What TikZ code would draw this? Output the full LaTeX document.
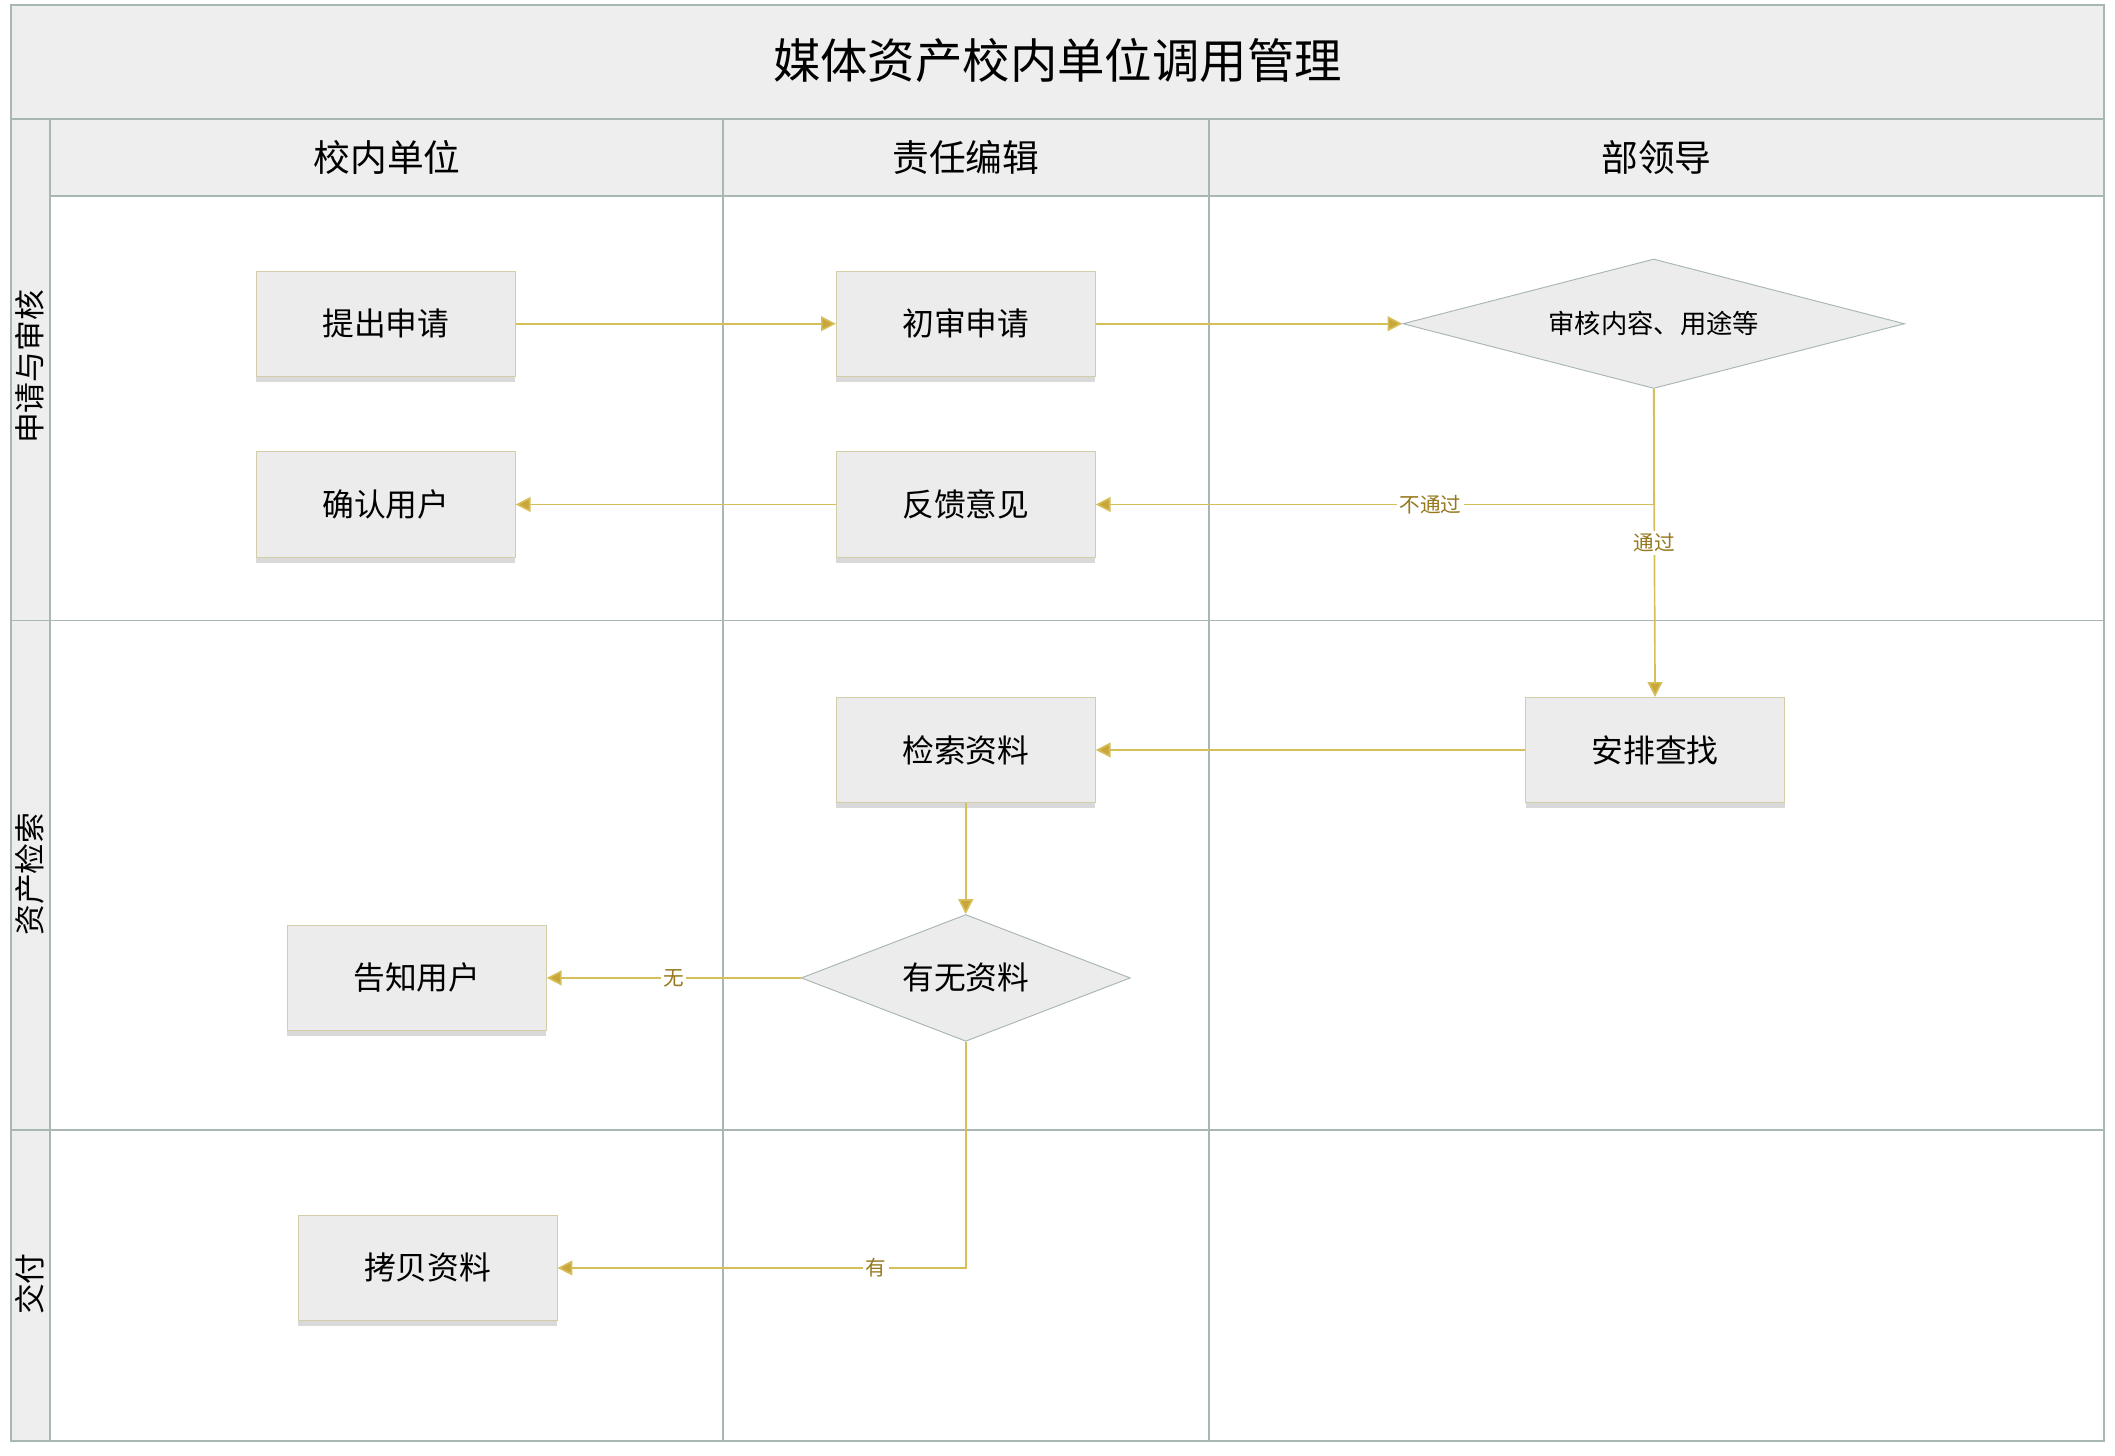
\documentclass[tikz,border=0pt]{standalone}
\usepackage{fontspec}
\setmainfont{Noto Sans CJK SC}
\usepackage{xcolor}
\usepackage{tikz}
\usetikzlibrary{shapes.geometric,shadows,arrows.meta}
\definecolor{laneline}{RGB}{168,182,180}
\definecolor{band}{RGB}{238,238,238}
\definecolor{boxfill}{RGB}{236,236,236}
\definecolor{boxline}{RGB}{212,206,168}
\definecolor{gold}{RGB}{214,190,90}
\definecolor{goldtip}{RGB}{200,166,58}
\definecolor{goldtext}{RGB}{150,120,30}

\begin{document}
\begin{tikzpicture}[x=0.02cm,y=-0.02cm,
    task/.style={rectangle,draw=boxline,fill=boxfill,minimum width=3.84cm,minimum height=1.56cm,
      font=\fontsize{13.4}{16}\selectfont,
      drop shadow={shadow xshift=0pt,shadow yshift=-2.5pt,opacity=0.3}},
    choice/.style={diamond,draw=laneline,fill=boxfill,inner sep=0pt,aspect=2.6},
    flow/.style={draw=gold,line width=0.7pt,-{Triangle[length=0.22cm,width=0.22cm,fill=goldtip]}},
    lbl/.style={fill=white,text=goldtext,inner sep=1pt,font=\fontsize{8.7}{10}\selectfont},
    lanehead/.style={font=\fontsize{15.5}{18}\selectfont},
    lanetitle/.style={rotate=90,font=\fontsize{13}{16}\selectfont}]

    \useasboundingbox (0,0) rectangle (1568,1079);

    % bands
    \fill[band] (8,4) rectangle (1560,145);
    \fill[band] (8,145) rectangle (37,1068);

    \draw[laneline, thick] (8,4) rectangle (1560,1068);
    \draw[laneline, thick] (8,88) -- (1560,88);
    \draw[laneline, thick] (37,145) -- (1560,145);
    \draw[laneline, thick] (37,88) -- (37,1068);
    \draw[laneline, thick] (536,88) -- (536,1068);
    \draw[laneline, thick] (896,88) -- (896,1068);
    \draw[laneline, thick] (8,460) -- (1560,460);
    \draw[laneline, thick] (8,838) -- (1560,838);

    \node[font=\fontsize{20}{24}\selectfont] (title) at (784,45) {媒体资产校内单位调用管理};

    \node[lanehead] (unit) at (287,117) {校内单位};
    \node[lanehead] (editor) at (716,117) {责任编辑};
    \node[lanehead] (leader) at (1228,117) {部领导};

    \node[lanetitle] (rowa) at (22,272) {申请与审核};
    \node[lanetitle] (rowb) at (22,648) {资产检索};
    \node[lanetitle] (rowc) at (22,952) {交付};

    \node[task] (apply) at (286,240) {提出申请};
    \node[task] (first) at (716,240) {初审申请};
    \node[choice,minimum width=7.44cm,minimum height=1.92cm,font=\fontsize{11.1}{13}\selectfont] (audit) at (1226,240) {审核内容、用途等};
    \node[task] (confirm) at (286,374) {确认用户};
    \node[task] (feedback) at (716,374) {反馈意见};
    \node[task] (search) at (716,556) {检索资料};
    \node[task] (arrange) at (1227,556) {安排查找};
    \node[choice,minimum width=4.88cm,minimum height=1.88cm,font=\fontsize{13.4}{16}\selectfont] (check) at (716,725) {有无资料};
    \node[task] (notify) at (309,725) {告知用户};
    \node[task] (copy) at (317,940) {拷贝资料};

    \draw[flow] (apply) -- (first);
    \draw[flow] (first) -- (audit);
    \draw[flow] (audit.south) |- node[lbl,pos=0.7]{不通过} (feedback.east);
    \draw[flow] (audit.south) -- node[lbl,pos=0.5]{通过} (arrange.north);
    \draw[flow] (feedback) -- (confirm);
    \draw[flow] (arrange) -- (search);
    \draw[flow] (search) -- (check);
    \draw[flow] (check) -- node[lbl]{无} (notify);
    \draw[flow] (check.south) |- node[lbl,pos=0.61]{有} (copy.east);

  \end{tikzpicture}
\end{document}
